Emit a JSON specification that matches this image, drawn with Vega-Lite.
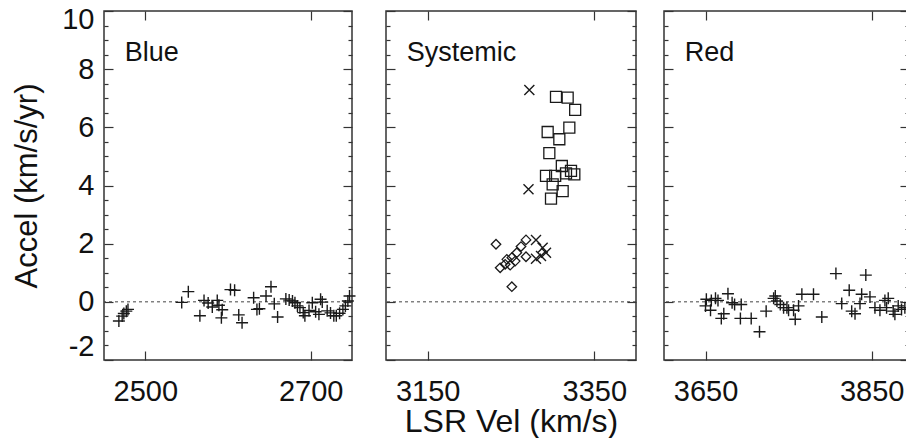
{
  "$schema": "https://vega.github.io/schema/vega-lite/v6.json",
  "background": "white",
  "padding": {"left": 10, "top": 4, "right": 0, "bottom": 0},
  "spacing": 24,
  "datasets": {
    "blue": [
      {"vel": 2468, "acc": -0.66}, {"vel": 2472, "acc": -0.49}, {"vel": 2474, "acc": -0.40}, {"vel": 2477, "acc": -0.32}, {"vel": 2479, "acc": -0.26},
      {"vel": 2544, "acc": -0.02}, {"vel": 2552, "acc": 0.35}, {"vel": 2566, "acc": -0.48}, {"vel": 2571, "acc": 0.05}, {"vel": 2576, "acc": -0.04},
      {"vel": 2581, "acc": -0.18}, {"vel": 2587, "acc": 0.05}, {"vel": 2589, "acc": -0.12}, {"vel": 2593, "acc": -0.27}, {"vel": 2592, "acc": -0.55},
      {"vel": 2603, "acc": 0.42}, {"vel": 2608, "acc": 0.40}, {"vel": 2613, "acc": -0.45}, {"vel": 2617, "acc": -0.72}, {"vel": 2631, "acc": 0.14},
      {"vel": 2635, "acc": -0.26}, {"vel": 2638, "acc": -0.24}, {"vel": 2646, "acc": 0.20}, {"vel": 2652, "acc": 0.52}, {"vel": 2656, "acc": -0.07},
      {"vel": 2660, "acc": -0.52}, {"vel": 2670, "acc": 0.10}, {"vel": 2674, "acc": 0.06}, {"vel": 2678, "acc": 0.03}, {"vel": 2681, "acc": -0.03},
      {"vel": 2684, "acc": -0.14}, {"vel": 2687, "acc": -0.20}, {"vel": 2691, "acc": -0.37}, {"vel": 2693, "acc": -0.48}, {"vel": 2698, "acc": -0.30},
      {"vel": 2702, "acc": -0.03}, {"vel": 2706, "acc": -0.34}, {"vel": 2712, "acc": 0.09}, {"vel": 2714, "acc": -0.01}, {"vel": 2710, "acc": -0.43},
      {"vel": 2720, "acc": -0.31}, {"vel": 2724, "acc": -0.38}, {"vel": 2728, "acc": -0.48}, {"vel": 2731, "acc": -0.48}, {"vel": 2735, "acc": -0.39},
      {"vel": 2739, "acc": -0.26}, {"vel": 2742, "acc": -0.14}, {"vel": 2745, "acc": 0.03}, {"vel": 2747, "acc": 0.20}
    ],
    "sys": [
      {"vel": 3304, "acc": 7.05, "sym": "square"}, {"vel": 3318, "acc": 7.02, "sym": "square"}, {"vel": 3327, "acc": 6.60, "sym": "square"},
      {"vel": 3320, "acc": 5.99, "sym": "square"}, {"vel": 3294, "acc": 5.84, "sym": "square"}, {"vel": 3308, "acc": 5.59, "sym": "square"},
      {"vel": 3296, "acc": 5.11, "sym": "square"}, {"vel": 3311, "acc": 4.67, "sym": "square"}, {"vel": 3322, "acc": 4.50, "sym": "square"},
      {"vel": 3326, "acc": 4.38, "sym": "square"}, {"vel": 3292, "acc": 4.33, "sym": "square"}, {"vel": 3303, "acc": 4.33, "sym": "square"},
      {"vel": 3316, "acc": 4.42, "sym": "square"}, {"vel": 3300, "acc": 4.04, "sym": "square"}, {"vel": 3312, "acc": 3.81, "sym": "square"},
      {"vel": 3298, "acc": 3.55, "sym": "square"},
      {"vel": 3232, "acc": 1.98, "sym": "diamond"}, {"vel": 3268, "acc": 2.13, "sym": "diamond"}, {"vel": 3262, "acc": 1.90, "sym": "diamond"},
      {"vel": 3257, "acc": 1.69, "sym": "diamond"}, {"vel": 3268, "acc": 1.55, "sym": "diamond"}, {"vel": 3251, "acc": 1.52, "sym": "diamond"},
      {"vel": 3245, "acc": 1.46, "sym": "diamond"}, {"vel": 3237, "acc": 1.17, "sym": "diamond"}, {"vel": 3243, "acc": 1.29, "sym": "diamond"},
      {"vel": 3249, "acc": 1.26, "sym": "diamond"}, {"vel": 3255, "acc": 1.40, "sym": "diamond"}, {"vel": 3251, "acc": 0.52, "sym": "diamond"},
      {"vel": 3272, "acc": 7.28, "sym": "x"}, {"vel": 3271, "acc": 3.87, "sym": "x"}, {"vel": 3280, "acc": 2.13, "sym": "x"},
      {"vel": 3288, "acc": 1.86, "sym": "x"}, {"vel": 3286, "acc": 1.58, "sym": "x"}, {"vel": 3280, "acc": 1.48, "sym": "x"},
      {"vel": 3292, "acc": 1.69, "sym": "x"}
    ],
    "red": [
      {"vel": 3650, "acc": -0.14}, {"vel": 3651, "acc": 0.09}, {"vel": 3656, "acc": -0.29}, {"vel": 3657, "acc": 0.05}, {"vel": 3662, "acc": 0.12},
      {"vel": 3665, "acc": 0.05}, {"vel": 3669, "acc": -0.57}, {"vel": 3672, "acc": -0.41}, {"vel": 3677, "acc": 0.28}, {"vel": 3682, "acc": -0.03},
      {"vel": 3685, "acc": -0.09}, {"vel": 3692, "acc": -0.57}, {"vel": 3693, "acc": -0.09}, {"vel": 3705, "acc": -0.57}, {"vel": 3715, "acc": -1.03},
      {"vel": 3723, "acc": -0.32}, {"vel": 3732, "acc": 0.12}, {"vel": 3734, "acc": 0.20}, {"vel": 3736, "acc": 0.03}, {"vel": 3740, "acc": -0.09},
      {"vel": 3744, "acc": -0.20}, {"vel": 3748, "acc": -0.20}, {"vel": 3750, "acc": -0.29}, {"vel": 3756, "acc": -0.29}, {"vel": 3758, "acc": -0.60},
      {"vel": 3762, "acc": -0.14}, {"vel": 3766, "acc": 0.26}, {"vel": 3780, "acc": 0.26}, {"vel": 3790, "acc": -0.52}, {"vel": 3807, "acc": 0.97},
      {"vel": 3814, "acc": -0.06}, {"vel": 3823, "acc": 0.40}, {"vel": 3826, "acc": -0.32}, {"vel": 3830, "acc": -0.41}, {"vel": 3836, "acc": -0.06},
      {"vel": 3838, "acc": 0.26}, {"vel": 3843, "acc": 0.92}, {"vel": 3848, "acc": 0.17}, {"vel": 3854, "acc": -0.20}, {"vel": 3860, "acc": -0.29},
      {"vel": 3866, "acc": 0.05}, {"vel": 3868, "acc": -0.20}, {"vel": 3870, "acc": 0.12}, {"vel": 3876, "acc": -0.32}, {"vel": 3878, "acc": -0.43},
      {"vel": 3882, "acc": -0.14}, {"vel": 3886, "acc": -0.26}, {"vel": 3890, "acc": -0.20}, {"vel": 3894, "acc": -0.26}
    ]
  },
  "hconcat": [
    {
      "width": 248, "height": 349,
      "data": {"name": "blue"},
      "resolve": {"axis": {"x": "independent", "y": "independent"}},
      "layer": [
        {"data": {"values": [{"z": 0}]}, "mark": {"type": "rule", "strokeDash": [3, 3], "strokeWidth": 1, "color": "#444"},
         "encoding": {"y": {"field": "z", "type": "quantitative", "axis": null}}},
        {"mark": {"type": "point", "shape": "M-1,0H1M0,-1V1", "size": 144, "filled": false, "stroke": "#1a1a1a", "strokeWidth": 1.4, "opacity": 1},
         "encoding": {
           "x": {"field": "vel", "type": "quantitative", "scale": {"domain": [2450, 2750], "nice": false, "zero": false},
                 "axis": {"orient": "bottom", "values": [2500, 2700], "labelExpr": "'' + datum.value", "ticks": false, "labelPadding": 17, "labelFlush": false, "title": null}},
           "y": {"field": "acc", "type": "quantitative", "scale": {"domain": [-2, 10], "nice": false, "zero": false},
                 "axis": {"orient": "left", "values": [-2, 0, 2, 4, 6, 8, 10], "labelExpr": "'' + datum.value", "ticks": false, "labelPadding": 10, "labelFlush": false,
                          "labelBaseline": "middle",
                          "labelOffset": {"condition": [{"test": "datum.value == 10", "value": 8}, {"test": "datum.value == -2", "value": -14}], "value": 0},
                          "title": "Accel (km/s/yr)", "titlePadding": 18, "titleFontSize": 31}}}},
        {"mark": {"type": "point", "opacity": 0},
         "encoding": {"x": {"field": "vel", "type": "quantitative", "axis": {"orient": "top", "values": [2500, 2700], "labels": false, "tickSize": -9, "title": null}},
                      "y": {"field": "acc", "type": "quantitative", "axis": {"orient": "left", "values": [-2, 0, 2, 4, 6, 8, 10], "labels": false, "tickSize": -9, "title": null}}}},
        {"mark": {"type": "point", "opacity": 0},
         "encoding": {"x": {"field": "vel", "type": "quantitative", "axis": {"orient": "bottom", "values": [2500, 2700], "labels": false, "tickSize": -9, "title": null}},
                      "y": {"field": "acc", "type": "quantitative", "axis": {"orient": "right", "values": [-2, 0, 2, 4, 6, 8, 10], "labels": false, "tickSize": -9, "title": null}}}},
        {"mark": {"type": "point", "opacity": 0},
         "encoding": {"x": {"field": "vel", "type": "quantitative", "axis": null},
                      "y": {"field": "acc", "type": "quantitative", "axis": {"orient": "left", "values": [-1.5, -1, -0.5, 0.5, 1, 1.5, 2.5, 3, 3.5, 4.5, 5, 5.5, 6.5, 7, 7.5, 8.5, 9, 9.5], "labels": false, "tickSize": -4, "title": null}}}},
        {"mark": {"type": "point", "opacity": 0},
         "encoding": {"x": {"field": "vel", "type": "quantitative", "axis": null},
                      "y": {"field": "acc", "type": "quantitative", "axis": {"orient": "right", "values": [-1.5, -1, -0.5, 0.5, 1, 1.5, 2.5, 3, 3.5, 4.5, 5, 5.5, 6.5, 7, 7.5, 8.5, 9, 9.5], "labels": false, "tickSize": -4, "title": null}}}},
        {"data": {"values": [{"panel": "Blue"}]},
         "mark": {"type": "text", "align": "left", "baseline": "alphabetic", "fontSize": 27, "font": "Liberation Sans", "color": "#111"},
         "encoding": {"text": {"field": "panel"}, "x": {"datum": 2475, "type": "quantitative", "axis": null}, "y": {"datum": 8.28, "type": "quantitative", "axis": null}}}
      ]
    },
    {
      "width": 250, "height": 349,
      "data": {"name": "sys"},
      "resolve": {"axis": {"x": "independent", "y": "independent"}},
      "layer": [
        {"data": {"values": [{"z": 0}]}, "mark": {"type": "rule", "strokeDash": [3, 3], "strokeWidth": 1, "color": "#444"},
         "encoding": {"y": {"field": "z", "type": "quantitative", "axis": null}}},
        {"transform": [{"filter": "datum.sym === 'square'"}],
         "mark": {"type": "point", "shape": "square", "size": 121, "filled": false, "stroke": "#1a1a1a", "strokeWidth": 1.3, "opacity": 1},
         "encoding": {
           "x": {"field": "vel", "type": "quantitative", "scale": {"domain": [3100, 3400], "nice": false, "zero": false},
                 "axis": {"orient": "bottom", "values": [3150, 3350], "labelExpr": "'' + datum.value", "ticks": false, "labelPadding": 17, "labelFlush": false, "title": "LSR Vel (km/s)", "titlePadding": 0, "titleFontSize": 32}},
           "y": {"field": "acc", "type": "quantitative", "scale": {"domain": [-2, 10], "nice": false, "zero": false}, "axis": null}}},
        {"transform": [{"filter": "datum.sym === 'diamond'"}],
         "mark": {"type": "point", "shape": "diamond", "size": 90, "filled": false, "stroke": "#1a1a1a", "strokeWidth": 1.3, "opacity": 1},
         "encoding": {"x": {"field": "vel", "type": "quantitative", "axis": null}, "y": {"field": "acc", "type": "quantitative", "axis": null}}},
        {"transform": [{"filter": "datum.sym === 'x'"}],
         "mark": {"type": "point", "shape": "M-1,-1L1,1M1,-1L-1,1", "size": 100, "filled": false, "stroke": "#1a1a1a", "strokeWidth": 1.4, "opacity": 1},
         "encoding": {"x": {"field": "vel", "type": "quantitative", "axis": null}, "y": {"field": "acc", "type": "quantitative", "axis": null}}},
        {"mark": {"type": "point", "opacity": 0},
         "encoding": {"x": {"field": "vel", "type": "quantitative", "axis": {"orient": "top", "values": [3150, 3350], "labels": false, "tickSize": -9, "title": null}},
                      "y": {"field": "acc", "type": "quantitative", "axis": {"orient": "left", "values": [-2, 0, 2, 4, 6, 8, 10], "labels": false, "tickSize": -9, "title": null}}}},
        {"mark": {"type": "point", "opacity": 0},
         "encoding": {"x": {"field": "vel", "type": "quantitative", "axis": {"orient": "bottom", "values": [3150, 3350], "labels": false, "tickSize": -9, "title": null}},
                      "y": {"field": "acc", "type": "quantitative", "axis": {"orient": "right", "values": [-2, 0, 2, 4, 6, 8, 10], "labels": false, "tickSize": -9, "title": null}}}},
        {"mark": {"type": "point", "opacity": 0},
         "encoding": {"x": {"field": "vel", "type": "quantitative", "axis": null},
                      "y": {"field": "acc", "type": "quantitative", "axis": {"orient": "left", "values": [-1.5, -1, -0.5, 0.5, 1, 1.5, 2.5, 3, 3.5, 4.5, 5, 5.5, 6.5, 7, 7.5, 8.5, 9, 9.5], "labels": false, "tickSize": -4, "title": null}}}},
        {"mark": {"type": "point", "opacity": 0},
         "encoding": {"x": {"field": "vel", "type": "quantitative", "axis": null},
                      "y": {"field": "acc", "type": "quantitative", "axis": {"orient": "right", "values": [-1.5, -1, -0.5, 0.5, 1, 1.5, 2.5, 3, 3.5, 4.5, 5, 5.5, 6.5, 7, 7.5, 8.5, 9, 9.5], "labels": false, "tickSize": -4, "title": null}}}},
        {"data": {"values": [{"panel": "Systemic"}]},
         "mark": {"type": "text", "align": "left", "baseline": "alphabetic", "fontSize": 27, "font": "Liberation Sans", "color": "#111"},
         "encoding": {"text": {"field": "panel"}, "x": {"datum": 3125, "type": "quantitative", "axis": null}, "y": {"datum": 8.28, "type": "quantitative", "axis": null}}}
      ]
    },
    {
      "width": 245, "height": 349,
      "data": {"name": "red"},
      "resolve": {"axis": {"x": "independent", "y": "independent"}},
      "layer": [
        {"data": {"values": [{"z": 0}]}, "mark": {"type": "rule", "strokeDash": [3, 3], "strokeWidth": 1, "color": "#444"},
         "encoding": {"y": {"field": "z", "type": "quantitative", "axis": null}}},
        {"mark": {"type": "point", "shape": "M-1,0H1M0,-1V1", "size": 144, "filled": false, "stroke": "#1a1a1a", "strokeWidth": 1.4, "opacity": 1},
         "encoding": {
           "x": {"field": "vel", "type": "quantitative", "scale": {"domain": [3600, 3895], "nice": false, "zero": false},
                 "axis": {"orient": "bottom", "values": [3650, 3850], "labelExpr": "'' + datum.value", "ticks": false, "labelPadding": 17, "labelFlush": false, "title": null}},
           "y": {"field": "acc", "type": "quantitative", "scale": {"domain": [-2, 10], "nice": false, "zero": false}, "axis": null}}},
        {"mark": {"type": "point", "opacity": 0},
         "encoding": {"x": {"field": "vel", "type": "quantitative", "axis": {"orient": "top", "values": [3650, 3850], "labels": false, "tickSize": -9, "title": null}},
                      "y": {"field": "acc", "type": "quantitative", "axis": {"orient": "left", "values": [-2, 0, 2, 4, 6, 8, 10], "labels": false, "tickSize": -9, "title": null}}}},
        {"mark": {"type": "point", "opacity": 0},
         "encoding": {"x": {"field": "vel", "type": "quantitative", "axis": {"orient": "bottom", "values": [3650, 3850], "labels": false, "tickSize": -9, "title": null}},
                      "y": {"field": "acc", "type": "quantitative", "axis": {"orient": "right", "values": [-2, 0, 2, 4, 6, 8, 10], "labels": false, "tickSize": -9, "title": null}}}},
        {"mark": {"type": "point", "opacity": 0},
         "encoding": {"x": {"field": "vel", "type": "quantitative", "axis": null},
                      "y": {"field": "acc", "type": "quantitative", "axis": {"orient": "left", "values": [-1.5, -1, -0.5, 0.5, 1, 1.5, 2.5, 3, 3.5, 4.5, 5, 5.5, 6.5, 7, 7.5, 8.5, 9, 9.5], "labels": false, "tickSize": -4, "title": null}}}},
        {"mark": {"type": "point", "opacity": 0},
         "encoding": {"x": {"field": "vel", "type": "quantitative", "axis": null},
                      "y": {"field": "acc", "type": "quantitative", "axis": {"orient": "right", "values": [-1.5, -1, -0.5, 0.5, 1, 1.5, 2.5, 3, 3.5, 4.5, 5, 5.5, 6.5, 7, 7.5, 8.5, 9, 9.5], "labels": false, "tickSize": -4, "title": null}}}},
        {"data": {"values": [{"panel": "Red"}]},
         "mark": {"type": "text", "align": "left", "baseline": "alphabetic", "fontSize": 27, "font": "Liberation Sans", "color": "#111"},
         "encoding": {"text": {"field": "panel"}, "x": {"datum": 3625, "type": "quantitative", "axis": null}, "y": {"datum": 8.28, "type": "quantitative", "axis": null}}}
      ]
    }
  ],
  "config": {
    "font": "Liberation Sans",
    "view": {"stroke": "#333", "strokeWidth": 1.5},
    "axis": {"grid": false, "domain": false, "labelFont": "Liberation Sans", "labelFontSize": 29, "labelColor": "#111",
             "titleFont": "Liberation Sans", "titleFontSize": 32, "titleFontWeight": "normal", "titleColor": "#111",
             "tickColor": "#333", "tickWidth": 1.2}
  }
}
